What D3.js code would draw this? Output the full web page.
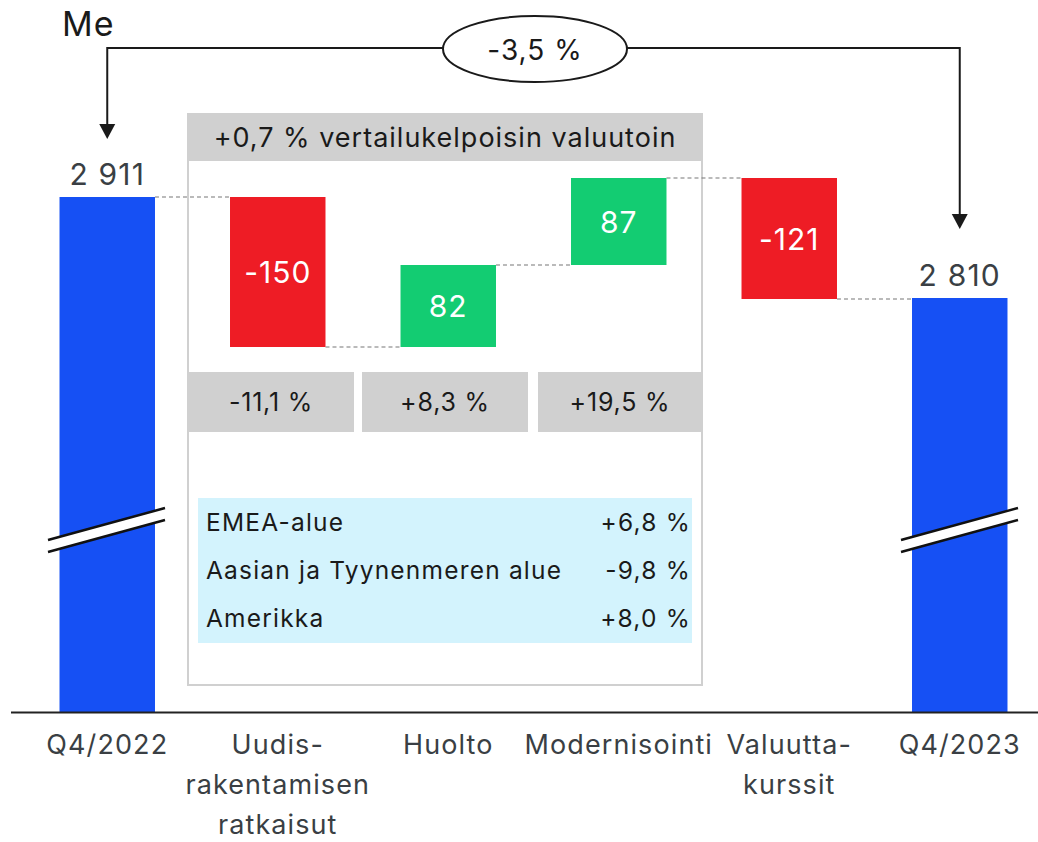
<!DOCTYPE html>
<html><head><meta charset="utf-8">
<script src="https://cdn.jsdelivr.net/npm/d3@7"></script>
<style>body{margin:0;background:#fff}svg{display:block;font-family:Inter,"Noto Sans",sans-serif}</style>
</head><body><svg id="c" width="1038" height="842"></svg>
<script>
const categories = [["Q4/2022"],["Uudis-","rakentamisen","ratkaisut"],["Huolto"],["Modernisointi"],["Valuutta-","kurssit"],["Q4/2023"]];
const values = [2911, -150, 82, 87, -121, 2810];
const types = ["total","delta","delta","delta","delta","total"];
const valueLabels = ["2 911","-150","82","87","-121","2 810"];
const pctLabels = ["-11,1 %","+8,3 %","+19,5 %"];
const regions = ["EMEA-alue","Aasian ja Tyynenmeren alue","Amerikka"];
const regionPct = ["+6,8 %","-9,8 %","+8,0 %"];
const headerText = "+0,7 % vertailukelpoisin valuutoin";
const totalChange = "-3,5 %";
const unit = "Me";

const svg = d3.select("#c");
const x = d3.scaleBand().domain(d3.range(categories.length)).range([22,1045]).paddingInner(0.44).paddingOuter(0.22);
const y = d3.scaleLinear().domain([2396, 2911]).range([712,197]);

let run = 0; const bars = [];
values.forEach((v,i)=>{
  if(types[i]==="total"){ bars.push({i, y0:2396, y1:v, v}); run=v; }
  else { const s=run; run+=v; bars.push({i, y0:s, y1:run, v}); }
});
const col = d=> types[d.i]==="total" ? "#1650f4" : (d.v<0 ? "#ee1c25" : "#13cc72");

function txt(xx,yy,t,size,fill,anchor,ls){
  return svg.append("text").attr("x",xx).attr("y",yy).attr("text-anchor",anchor||"start")
    .attr("font-size",size).attr("fill",fill).attr("letter-spacing",ls||0).text(t);
}

// group box
svg.append("rect").attr("x",188).attr("y",114).attr("width",514).attr("height",571).attr("fill","#fff").attr("stroke","#d0d0d0").attr("stroke-width",2);
svg.append("rect").attr("x",188).attr("y",114).attr("width",514).attr("height",47).attr("fill","#d0d0d0");
txt(445,147,headerText,27,"#1a1a1a","middle",1);

// connectors
for(let k=0;k<bars.length-1;k++){
  const lvl = bars[k].y1;
  svg.append("line").attr("x1",x(k)+x.bandwidth()).attr("x2",x(k+1)).attr("y1",y(lvl)).attr("y2",y(lvl))
    .attr("stroke","#777").attr("stroke-width",1.2).attr("stroke-dasharray","4,3");
}

// bars
svg.selectAll(".bar").data(bars).join("rect").attr("x",d=>x(d.i)).attr("width",x.bandwidth())
  .attr("y",d=>y(Math.max(d.y0,d.y1))).attr("height",d=>Math.abs(y(d.y0)-y(d.y1))).attr("fill",col);

bars.forEach(d=>{
  const cx=x(d.i)+x.bandwidth()/2;
  if(types[d.i]==="total") txt(cx,y(d.y1)-12,valueLabels[d.i],30,"#3a3f44","middle",1.2);
  else txt(cx,(y(d.y0)+y(d.y1))/2+11,valueLabels[d.i],30,"#fff","middle",1);
});

// pct boxes
const pb=[[188,354],[362,528],[538,702]];
pctLabels.forEach((t,k)=>{
  svg.append("rect").attr("x",pb[k][0]).attr("y",372).attr("width",pb[k][1]-pb[k][0]).attr("height",60).attr("fill","#d0d0d0");
  txt((pb[k][0]+pb[k][1])/2,411,t,25,"#1a1a1a","middle",0.8);
});

// region box
svg.append("rect").attr("x",198).attr("y",498).attr("width",494).attr("height",145).attr("fill","#d3f3fd");
regions.forEach((r,k)=>{
  const yy=531+k*48;
  txt(206,yy,r,24.5,"#1a1a1a","start",1.2);
  txt(691,yy,regionPct[k],24.5,"#1a1a1a","end",1.2);
});

// axis break marks
[[48,165],[901,1018]].forEach(([a,b])=>{
  svg.append("path").attr("d",`M${a},540 L${b},508 L${b},520 L${a},552 Z`).attr("fill","#fff");
  svg.append("line").attr("x1",a).attr("y1",540).attr("x2",b).attr("y2",508).attr("stroke","#111").attr("stroke-width",2.5);
  svg.append("line").attr("x1",a).attr("y1",552).attr("x2",b).attr("y2",520).attr("stroke","#111").attr("stroke-width",2.5);
});

// axis
svg.append("line").attr("x1",11).attr("x2",1038).attr("y1",712.5).attr("y2",712.5).attr("stroke","#222").attr("stroke-width",2);
categories.forEach((lines,i)=>{
  lines.forEach((l,j)=>{
    txt(x(i)+x.bandwidth()/2,754+j*40,l,27,"#3a3f44","middle",1.1);
  });
});

// top arrow
txt(62,36,unit,34,"#1a1a1a","start",1);
const xl=x(0)+x.bandwidth()/2, xr=x(5)+x.bandwidth()/2;
svg.append("path").attr("d",`M${xl},125 L${xl},48 L${xr},48 L${xr},215`).attr("fill","none").attr("stroke","#1a1a1a").attr("stroke-width",2);
svg.append("path").attr("d",`M${xl-8},124 L${xl+8},124 L${xl},139 Z`).attr("fill","#1a1a1a");
svg.append("path").attr("d",`M${xr-8},214 L${xr+8},214 L${xr},229 Z`).attr("fill","#1a1a1a");
svg.append("ellipse").attr("cx",535).attr("cy",49).attr("rx",92).attr("ry",33).attr("fill","#fff").attr("stroke","#1a1a1a").attr("stroke-width",2);
txt(535,60,totalChange,28,"#1a1a1a","middle",1);
</script></body></html>
